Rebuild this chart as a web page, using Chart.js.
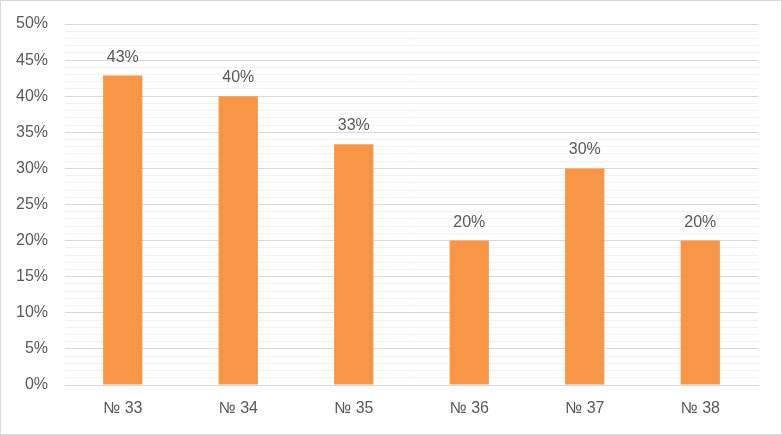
<!DOCTYPE html>
<html>
<head>
<meta charset="utf-8">
<script src="https://cdn.jsdelivr.net/npm/chart.js@4"></script>
<style>
  html, body { margin: 0; padding: 0; background: #fff; }
  #wrap { position: relative; width: 782px; height: 435px; box-sizing: border-box; border: 1px solid #D9D9D9; }
  #teh_canvas { position: absolute; left: 0; top: 0; }
</style>
</head>
<body>
<div id="wrap"><canvas id="teh_canvas" width="780" height="433"></canvas></div>
<script>
var categories = ['№ 33', '№ 34', '№ 35', '№ 36', '№ 37', '№ 38'];
var shares = [42.86, 40, 33.33, 20, 30, 20];
var barLabels = ['43%', '40%', '33%', '20%', '30%', '20%'];

var textColor = '#595959';
var fontFamily = '"Liberation Sans", Arial, sans-serif';
var fontSize = 16;

// writes the percent over each bar
var topLabels = {
    id: 'topLabels',
    afterDatasetsDraw: function(chart) {
        var ctx = chart.ctx;
        var meta = chart.getDatasetMeta(0);
        ctx.save();
        ctx.fillStyle = textColor;
        ctx.font = fontSize + 'px ' + fontFamily;
        ctx.textAlign = 'center';
        ctx.textBaseline = 'alphabetic';
        meta.data.forEach(function(bar, i) {
            ctx.fillText(barLabels[i], bar.x, bar.y - 14);
        });
        ctx.restore();
    }
};

function initChart() {
    var ctx = document.getElementById('teh_canvas');
    new Chart(ctx, {
        type: 'bar',
        data: {
            labels: categories,
            datasets: [{
                data: shares,
                backgroundColor: '#F79646',
                categoryPercentage: 1,
                barPercentage: 0.34
            }]
        },
        plugins: [topLabels],
        options: {
            responsive: false,
            animation: false,
            layout: { padding: { left: 0, right: 23, top: 23, bottom: 0 } },
            plugins: {
                legend: { display: false },
                tooltip: { enabled: false }
            },
            scales: {
                x: {
                    grid: { display: false },
                    border: { color: '#D9D9D9' },
                    ticks: { color: textColor, font: { family: fontFamily, size: fontSize }, padding: 6 },
                    afterFit: function(scale) { scale.height = 49; }
                },
                y: {
                    min: 0,
                    max: 50,
                    border: { display: false },
                    grid: {
                        drawTicks: false,
                        color: function(c) { return c.tick && c.tick.value % 5 === 0 ? '#D9D9D9' : '#F2F2F2'; }
                    },
                    ticks: {
                        stepSize: 1,
                        autoSkip: false,
                        padding: 17,
                        color: textColor,
                        font: { family: fontFamily, size: fontSize },
                        callback: function(v) { return v % 5 === 0 ? v + '%' : ''; }
                    },
                    afterFit: function(scale) {
                        scale.width = 64;
                        // tick padding would otherwise push the plot down
                        scale.paddingTop = 0;
                        scale.paddingBottom = 0;
                    }
                }
            }
        }
    });
}
initChart();
</script>
</body>
</html>
